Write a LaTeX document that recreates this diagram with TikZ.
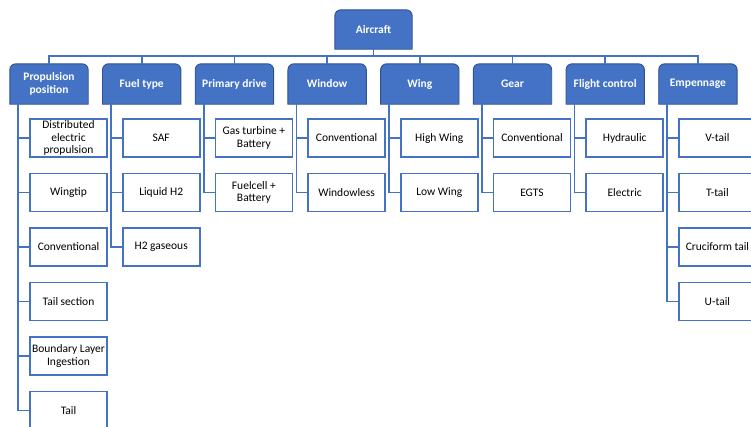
\documentclass[tikz,border=0pt]{standalone}
\usepackage{fontspec}
\setmainfont{Carlito}
\usetikzlibrary{backgrounds}
\definecolor{accblue}{HTML}{4472C4}
\definecolor{darkblue}{HTML}{2F528F}
\tikzset{
  lonebox/.style={minimum width=78pt,minimum height=40pt,inner sep=0pt,align=center,
    text=white,font=\fontsize{11.5}{12.6}\selectfont\bfseries},
  ltwobox/.style={draw=accblue,line width=1.8pt,fill=white,minimum width=77pt,minimum height=38pt,
    inner sep=0pt,align=center,font=\fontsize{11.5}{12.8}\selectfont},
  conn/.style={draw=accblue,line width=1.8pt},
  shapefill/.style={fill=accblue,draw=darkblue,line width=0.9pt}
}
\begin{document}
\begin{tikzpicture}[x=1pt,y=1pt]
\useasboundingbox (0,0) rectangle (751,-426);
\clip (0,0) rectangle (751,-426);
% root
\node[lonebox,minimum width=77pt,minimum height=39pt] (A) at (373.5,-29.5) {Aircraft};
% level 1
\node[lonebox] (P1) at (49,-84) {Propulsion\\position};
\node[lonebox] (P2) at (141.7,-84) {Fuel type};
\node[lonebox] (P3) at (234.4,-84) {Primary drive};
\node[lonebox] (P4) at (327.1,-84) {Window};
\node[lonebox] (P5) at (419.8,-84) {Wing};
\node[lonebox] (P6) at (512.5,-84) {Gear};
\node[lonebox] (P7) at (605.2,-84) {Flight control};
\node[lonebox] (P8) at (697.9,-84) {Empennage};
% shapes behind level-1 nodes
\begin{pgfonlayer}{background}
\foreach \n in {A,P1,P2,P3,P4,P5,P6,P7,P8}{
  \path[shapefill] (\n.south west) -- ([yshift=-6pt]\n.north west)
    arc[start angle=180,end angle=90,radius=6pt] -- ([xshift=-6pt]\n.north east)
    arc[start angle=90,end angle=0,radius=6pt] -- (\n.south east) -- cycle;
}
\end{pgfonlayer}
% bus
\coordinate (bus) at ([yshift=-7pt]A.south);
\draw[conn] (A.south) -- (bus);
\foreach \n in {P1,P2,P3,P4,P5,P6,P7,P8}{
  \draw[conn] (\n.north) |- (bus);
}
% level 2
\node[ltwobox] (C11) at (68.5,-138) {Distributed\\electric\\propulsion};
\node[ltwobox] (C12) at (68.5,-192.5) {Wingtip};
\node[ltwobox] (C13) at (68.5,-247) {Conventional};
\node[ltwobox] (C14) at (68.5,-301.5) {Tail section};
\node[ltwobox] (C15) at (68.5,-356) {Boundary Layer\\Ingestion};
\node[ltwobox] (C16) at (68.5,-410.5) {Tail};

\node[ltwobox] (C21) at (161.2,-138) {SAF};
\node[ltwobox] (C22) at (161.2,-192.5) {Liquid H2};
\node[ltwobox] (C23) at (161.2,-247) {H2 gaseous};

\node[ltwobox] (C31) at (253.9,-138) {Gas turbine +\\Battery};
\node[ltwobox] (C32) at (253.9,-192.5) {Fuelcell +\\Battery};

\node[ltwobox] (C41) at (346.6,-138) {Conventional};
\node[ltwobox] (C42) at (346.6,-192.5) {Windowless};

\node[ltwobox] (C51) at (439.3,-138) {High Wing};
\node[ltwobox] (C52) at (439.3,-192.5) {Low Wing};

\node[ltwobox] (C61) at (532,-138) {Conventional};
\node[ltwobox] (C62) at (532,-192.5) {EGTS};

\node[ltwobox] (C71) at (624.7,-138) {Hydraulic};
\node[ltwobox] (C72) at (624.7,-192.5) {Electric};

\node[ltwobox] (C81) at (717.4,-138) {V-tail};
\node[ltwobox] (C82) at (717.4,-192.5) {T-tail};
\node[ltwobox] (C83) at (717.4,-247) {Cruciform tail};
\node[ltwobox] (C84) at (717.4,-301.5) {U-tail};
% connectors
\begin{pgfonlayer}{background}
\foreach \p/\c in {P1/C11,P1/C12,P1/C13,P1/C14,P1/C15,P1/C16,
                   P2/C21,P2/C22,P2/C23,P3/C31,P3/C32,P4/C41,P4/C42,
                   P5/C51,P5/C52,P6/C61,P6/C62,P7/C71,P7/C72,
                   P8/C81,P8/C82,P8/C83,P8/C84}{
  \draw[conn] ([xshift=8.5pt]\p.south west) |- (\c.west);
}
\end{pgfonlayer}
\end{tikzpicture}
\end{document}
